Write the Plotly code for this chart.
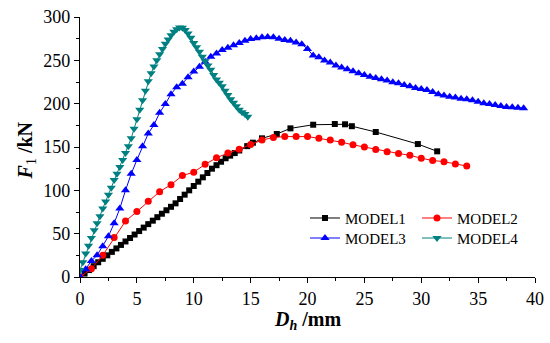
import plotly.graph_objects as go

# MODEL1 (black squares)
m1_x = [0, 0.4, 0.8, 1.2, 1.6, 2.0, 2.4, 2.8, 3.2, 3.6, 4.0, 4.4, 4.8, 5.2, 5.6, 6.0,
        6.4, 6.8, 7.2, 7.6, 8.0, 8.4, 8.8, 9.2, 9.6, 10.0, 10.4, 10.8, 11.2, 11.6, 12.0,
        12.4, 12.8, 13.2, 13.6, 14.0, 14.7, 15.2, 16.0, 17.3, 18.5, 20.5, 22.4, 23.3,
        23.9, 26.0, 29.7, 31.4]
m1_y = [0, 4, 8, 12.5, 17, 21, 25, 29, 33, 37, 41, 45, 49, 53, 57, 61,
        65, 69, 73, 77, 81, 85, 90, 95, 100, 105, 110, 115, 120, 125, 129,
        133, 137, 140, 143, 146, 151, 155, 160, 165, 171.5, 175.7, 176.5, 176.2,
        174, 167.3, 153.4, 145]

# MODEL2 (red circles)
m2_x = [0, 1, 2, 3, 4, 5, 6, 7, 8, 9, 10, 11, 12, 13, 14, 15, 16, 17, 18, 19, 20,
        21, 22, 23, 24, 25, 26, 27, 28, 29, 30, 31, 32, 33, 34]
m2_y = [0, 9.5, 25, 45.5, 64.5, 75.5, 87.5, 98.5, 106.5, 117, 121, 130, 137.5, 143,
        147.5, 153, 158, 161, 162, 162, 162, 160, 158, 155.5, 152.5, 150, 147, 144.5,
        142.5, 140.5, 137, 134.5, 133, 130.5, 128]

# MODEL3 (blue up-triangles)
m3_x = [0, 0.5, 1, 1.5, 2, 2.5, 3, 3.5, 4, 4.5, 5, 5.5, 6, 6.5, 7, 7.5, 8, 8.5, 9, 9.5,
        10, 10.5, 11, 11.5, 12, 12.5, 13, 13.5, 14, 14.5, 15, 15.5, 16, 16.5, 17, 17.5,
        18, 18.5, 19, 19.5, 20, 20.5, 21, 21.5, 22, 22.5, 23, 23.5, 24, 24.5, 25, 25.5,
        26, 26.5, 27, 27.5, 28, 28.5, 29, 29.5, 30, 30.5, 31, 31.5, 32, 32.5, 33, 33.5,
        34, 34.5, 35, 35.5, 36, 36.5, 37, 37.5, 38, 38.5, 39]
m3_y = [0, 9, 18.5, 25, 35.5, 47, 62, 79, 100, 119, 135, 151, 165.5, 175.5, 189.5,
        199.5, 211, 219, 223, 230.5, 237, 242.5, 248.5, 254, 258, 262, 264.5, 267.5,
        270, 272.5, 274.5, 275.5, 276.5, 277, 276.5, 274.8, 273.6, 272.5, 270.5, 268.7,
        263, 255.5, 253.5, 249.7, 247.4, 244, 241.6, 239.8, 237.5, 235.1, 233.2, 231.2,
        229.7, 228.2, 226.6, 224.7, 223.6, 221.6, 220.1, 218.2, 217, 215.8, 213.5,
        210.9, 209.3, 208.1, 207, 205.8, 205.1, 203.9, 202.3, 200.5, 199.7, 198.5,
        197.3, 196.2, 195.8, 195.4, 194.7]

# MODEL4 (teal down-triangles)
m4_x = [0, 0.25, 0.5, 0.75, 1, 1.25, 1.5, 1.75, 2, 2.25, 2.5, 2.75, 3, 3.25, 3.5, 3.75,
        4, 4.25, 4.5, 4.75, 5, 5.25, 5.5, 5.75, 6, 6.25, 6.5, 6.75, 7, 7.25, 7.5, 7.75,
        8, 8.25, 8.5, 8.75, 9, 9.25, 9.5, 9.75, 10, 10.25, 10.5, 10.75, 11, 11.25, 11.5,
        11.75, 12, 12.25, 12.5, 12.75, 13, 13.25, 13.5, 13.75, 14, 14.25, 14.5, 14.75]
m4_y = [8, 17, 27, 36, 45, 54, 62, 70, 79, 87, 95, 103, 112, 119, 127, 135,
        143, 151, 160, 171, 182, 193, 204, 215, 226, 235, 243, 250, 257, 263, 269, 274,
        279, 283, 286, 288, 287.5, 285, 281, 276, 270, 265, 260, 254, 249, 244, 239,
        233, 228, 224, 220, 215, 210, 205, 201, 197, 193, 190, 188, 185]

series = [
    ("MODEL1", m1_x, m1_y, "#000000", "square", 6, "legend"),
    ("MODEL2", m2_x, m2_y, "#FF0000", "circle", 7, "legend"),
    ("MODEL3", m3_x, m3_y, "#0000FF", "triangle-up", 8, "legend2"),
    ("MODEL4", m4_x, m4_y, "#008080", "triangle-down", 8, "legend2"),
]

FONT = "Liberation Serif"
fig = go.Figure()
for name, xs, ys, col, sym, sz, leg in series:
    fig.add_trace(go.Scatter(
        x=xs, y=ys, name=name, mode="lines+markers", legend=leg,
        line=dict(color=col, width=1),
        marker=dict(symbol=sym, size=sz, color=col, line=dict(width=0)),
    ))

axis_common = dict(
    showline=True, linecolor="black", linewidth=1.2, mirror=False,
    ticks="outside", ticklen=5, tickwidth=1.2, tickcolor="black",
    showgrid=False, zeroline=False, automargin=False,
    tickfont=dict(family=FONT, size=18, color="black"),
    minor=dict(ticks="outside", ticklen=3, tickwidth=1, tickcolor="black"),
)

fig.update_xaxes(range=[0, 40], tick0=0, dtick=5, minor_dtick=2.5, **axis_common)
fig.update_yaxes(range=[0, 300], tick0=0, dtick=50, minor_dtick=25, **axis_common)

fig.add_annotation(
    text="<b><i>D</i></b><sub><b><i>h</i></b></sub><b> /mm</b>",
    xref="paper", yref="paper", x=0.501, y=-0.168,
    xanchor="center", yanchor="middle", showarrow=False,
    font=dict(family=FONT, size=20, color="black"),
)
fig.add_annotation(
    text="<b><i>F</i></b><sub>1</sub><b> /kN</b>",
    xref="paper", yref="paper", x=-0.118, y=0.488, textangle=-90,
    xanchor="center", yanchor="middle", showarrow=False,
    font=dict(family=FONT, size=20, color="black"),
)

leg_common = dict(
    orientation="h", xanchor="left", yanchor="middle",
    entrywidth=67, entrywidthmode="pixels",
    font=dict(family=FONT, size=15, color="black"),
    bgcolor="rgba(0,0,0,0)", itemwidth=30,
)

fig.update_layout(
    width=550, height=343,
    margin=dict(l=80, r=15, t=17, b=66),
    paper_bgcolor="white", plot_bgcolor="white",
    showlegend=True,
    legend=dict(x=0.4945, y=0.226, **leg_common),
    legend2=dict(x=0.4945, y=0.149, **leg_common),
)

fig.write_html("out.html", config={"displayModeBar": False},
               post_script="document.body.style.margin='0';")
